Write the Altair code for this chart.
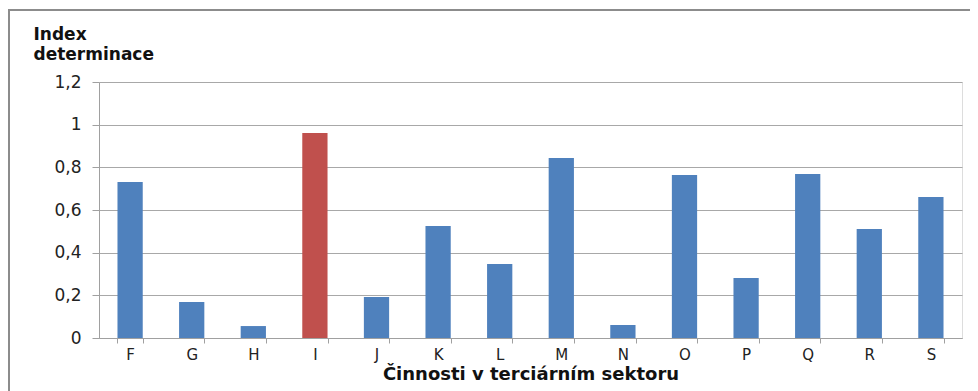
import altair as alt
import pandas as pd

categories = ["F", "G", "H", "I", "J", "K", "L", "M", "N", "O", "P", "Q", "R", "S"]
values = [0.731, 0.169, 0.056, 0.961, 0.192, 0.525, 0.347, 0.844, 0.061, 0.764, 0.281, 0.769, 0.511, 0.661]
highlight = ["I"]

df = pd.DataFrame({"cat": categories, "val": values})
df["hl"] = df["cat"].isin(highlight).map({True: "hl", False: "base"})

font = "DejaVu Sans"

bars = alt.Chart(df).mark_bar().encode(
    x=alt.X("cat:N", sort=categories,
            scale=alt.Scale(paddingInner=0.59, paddingOuter=0.3),
            axis=alt.Axis(title="Činnosti v terciárním sektoru", labelAngle=0,
                          tickBand="extent", grid=False, domainColor="#a0a0a0",
                          tickColor="#a0a0a0", tickSize=5, labelPadding=4,
                          labelFontSize=15, labelColor="#222", labelFont=font,
                          titleFont=font, titleFontSize=18, titleFontWeight="bold",
                          titleColor="#111", titlePadding=3)),
    y=alt.Y("val:Q", scale=alt.Scale(domain=[0, 1.2]),
            axis=alt.Axis(values=[0, 0.2, 0.4, 0.6, 0.8, 1, 1.2],
                          labelExpr="replace(format(datum.value, ''), '.', ',')",
                          title=["Index", "determinace"], titleAngle=0,
                          titleAlign="left", titleBaseline="top",
                          titleX=-66, titleY=-56, titleLineHeight=20,
                          titleFont=font, titleFontSize=17, titleFontWeight="bold",
                          titleColor="#111",
                          gridColor="#a8a8a8", gridWidth=1.2, domainColor="#a0a0a0",
                          tickColor="#a0a0a0", tickSize=7, labelPadding=11,
                          labelFontSize=17, labelColor="#222", labelFont=font)),
    color=alt.Color("hl:N", scale=alt.Scale(domain=["base", "hl"], range=["#4F81BD", "#C0504D"]),
                    legend=None),
)

frame = alt.Chart(df).mark_rect(fill=None, stroke="#8c8c8c", strokeWidth=2).encode(
    x=alt.value(-90), x2=alt.value(1000), y=alt.value(-72), y2=alt.value(400)
)

chart = alt.layer(frame, bars).properties(
    width=863, height=256,
    autosize=alt.AutoSizeParams(type="none"),
    padding={"left": 91, "top": 74, "right": 8, "bottom": 53},
).configure_view(stroke=None).configure(background="white")

chart.save("out.html", embed_options={"renderer": "svg", "actions": False})
